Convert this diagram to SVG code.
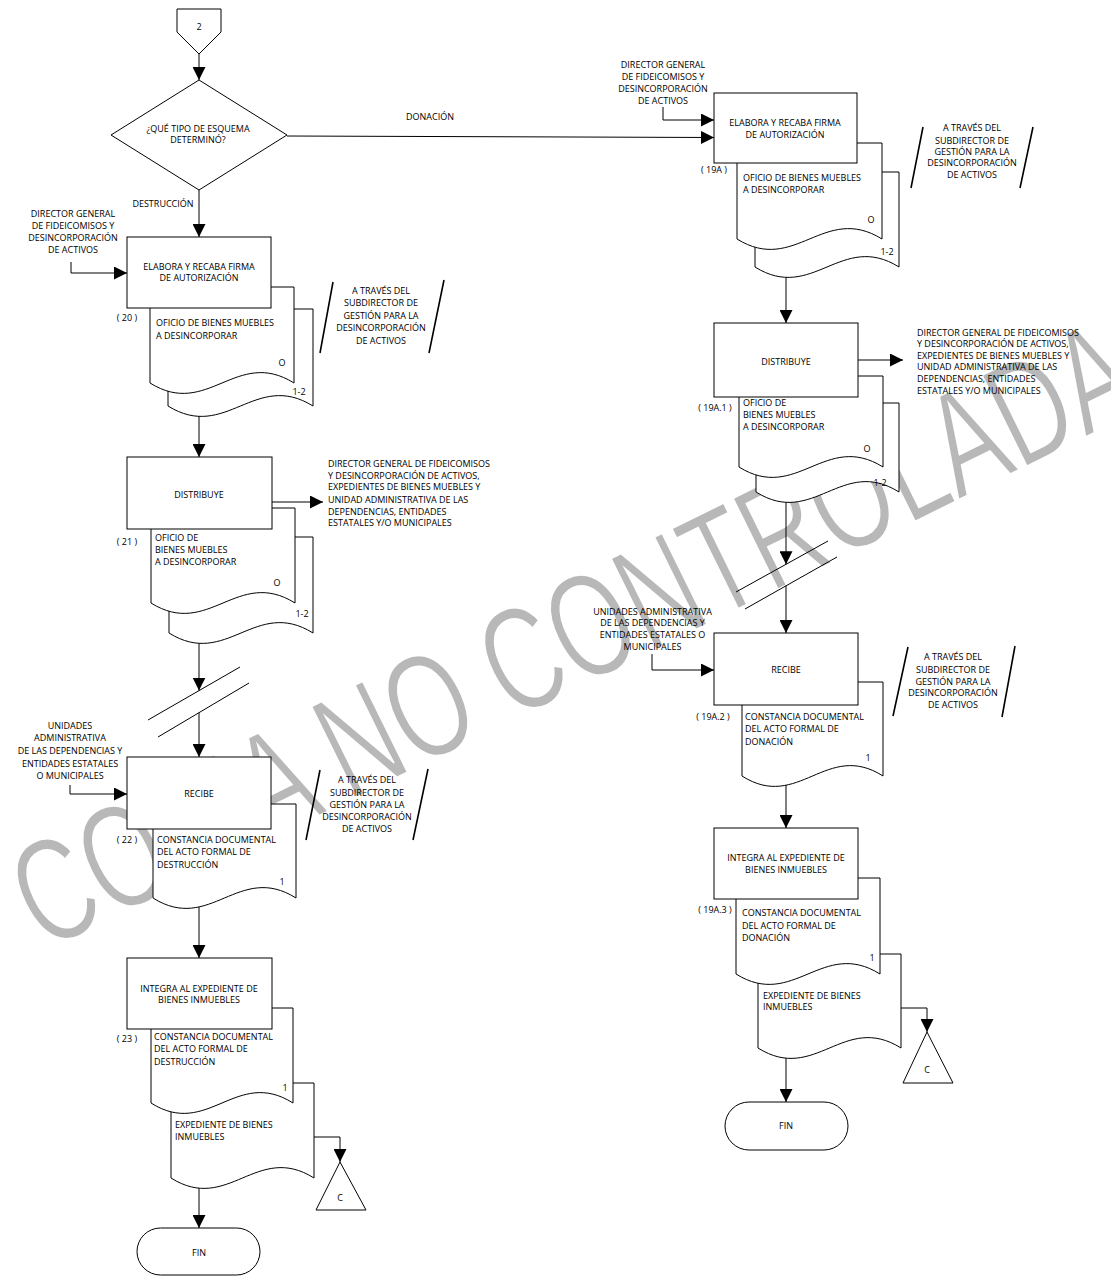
<svg xmlns="http://www.w3.org/2000/svg" width="1111" height="1278" viewBox="0 0 1111 1278">
<style>
.n{fill:#fff;stroke:#000;stroke-width:1}
.c{fill:none;stroke:#000;stroke-width:1}
.s{fill:none;stroke:#000;stroke-width:1.6}
.t{font-family:"Open Sans","Liberation Sans",sans-serif;font-size:9px;fill:#000}
.m{text-anchor:middle}
.wm{font-family:"Liberation Sans",Arial,sans-serif;font-size:102px;fill:#b8b8b8;stroke:#fff;stroke-width:1.4}
</style>
<defs>
<marker id="ah" markerUnits="userSpaceOnUse" markerWidth="13" markerHeight="13" viewBox="0 0 13 13" refX="13" refY="6.5" orient="auto"><path d="M0,0 L13,6.5 L0,13 z" fill="#000"/></marker>
</defs>
<rect width="1111" height="1278" fill="#fff"/>
<text class="wm" transform="translate(44,952) rotate(-26.3) scale(1,1.45)">COPIA NO CONTROLADA</text>

<g id="connectors">
<path class="c" d="M199 54V80" marker-end="url(#ah)"/>
<path class="c" d="M199 190V237" marker-end="url(#ah)"/>
<path class="c" d="M199 416V457" marker-end="url(#ah)"/>
<path class="c" d="M199 643V690.6" marker-end="url(#ah)"/>
<path class="c" d="M199 712.7V757" marker-end="url(#ah)"/>
<path class="c" d="M199 907V958" marker-end="url(#ah)"/>
<path class="c" d="M199 1188V1228" marker-end="url(#ah)"/>
<path class="c" d="M314 1137H340V1162" marker-end="url(#ah)"/>
<path class="c" d="M71 262V273H127" marker-end="url(#ah)"/>
<path class="c" d="M272 502H323" marker-end="url(#ah)"/>
<path class="c" d="M70 785V794H127" marker-end="url(#ah)"/>
<path class="c" d="M148 720L240 667M158 737L249 683"/>
<path class="c" d="M287 136L714 137.5" marker-end="url(#ah)"/>
<path class="c" d="M663 107V120H714" marker-end="url(#ah)"/>
<path class="c" d="M786 277V323" marker-end="url(#ah)"/>
<path class="c" d="M858 360H903" marker-end="url(#ah)"/>
<path class="c" d="M786 502V564.3" marker-end="url(#ah)"/>
<path class="c" d="M736 592L828 541M745 609L837 557"/>
<path class="c" d="M786 585.8V633" marker-end="url(#ah)"/>
<path class="c" d="M652 654V670H714" marker-end="url(#ah)"/>
<path class="c" d="M786 785V828" marker-end="url(#ah)"/>
<path class="c" d="M786 1058V1102" marker-end="url(#ah)"/>
<path class="c" d="M901 1008H927V1032" marker-end="url(#ah)"/>
</g>

<g id="start-2">
<path class="n" d="M177 9H221V32L199 54L177 32Z"/>
<text class="t m" x="199" y="30">2</text>
</g>

<g id="decision">
<path class="n" d="M199 80L287 135L199 190L111 135Z"/>
<text class="t m" x="198" y="131.5">¿QUÉ TIPO DE ESQUEMA</text>
<text class="t m" x="198" y="143">DETERMINÓ?</text>
<text class="t m" x="430" y="120">DONACIÓN</text>
<text class="t m" x="163" y="207">DESTRUCCIÓN</text>
</g>

<g id="actor-20">
<text class="t m" x="73" y="217">DIRECTOR GENERAL</text>
<text class="t m" x="73" y="229">DE FIDEICOMISOS Y</text>
<text class="t m" x="73" y="241">DESINCORPORACIÓN</text>
<text class="t m" x="73" y="253">DE ACTIVOS</text>
</g>

<g id="step-20">
<path class="n" d="M168 309H313V406C255 370 226 442 168 406Z"/>
<path class="n" d="M150 287H294V383C236.4 347 207.6 419 150 383Z"/>
<rect class="n" x="127" y="237" width="144" height="71"/>
<text class="t m" x="199" y="270">ELABORA Y RECABA FIRMA</text>
<text class="t m" x="199" y="281">DE AUTORIZACIÓN</text>
<text class="t m" x="127" y="321">( 20 )</text>
<text class="t" x="156" y="326">OFICIO DE BIENES MUEBLES</text>
<text class="t" x="156" y="339">A DESINCORPORAR</text>
<text class="t m" x="282" y="366">O</text>
<text class="t m" x="299" y="395">1-2</text>
</g>

<g id="note-20">
<path class="s" d="M333 282L320 353M444 280L429 353"/>
<text class="t m" x="381" y="294">A TRAVÉS DEL</text>
<text class="t m" x="381" y="306">SUBDIRECTOR DE</text>
<text class="t m" x="381" y="319">GESTIÓN PARA LA</text>
<text class="t m" x="381" y="331">DESINCORPORACIÓN</text>
<text class="t m" x="381" y="344">DE ACTIVOS</text>
</g>

<g id="step-21">
<path class="n" d="M169 537H313V633C255.4 597 226.6 669 169 633Z"/>
<path class="n" d="M151 508H295V603C237.4 567 208.6 639 151 603Z"/>
<rect class="n" x="127" y="457" width="145" height="72"/>
<text class="t m" x="199" y="498">DISTRIBUYE</text>
<text class="t m" x="127" y="545">( 21 )</text>
<text class="t" x="155" y="541">OFICIO DE</text>
<text class="t" x="155" y="553">BIENES MUEBLES</text>
<text class="t" x="155" y="565">A DESINCORPORAR</text>
<text class="t m" x="277" y="586">O</text>
<text class="t m" x="302" y="617">1-2</text>
</g>

<g id="recipients-21">
<text class="t" x="328" y="467">DIRECTOR GENERAL DE FIDEICOMISOS</text>
<text class="t" x="328" y="479">Y DESINCORPORACIÓN DE ACTIVOS,</text>
<text class="t" x="328" y="490">EXPEDIENTES DE BIENES MUEBLES Y</text>
<text class="t" x="328" y="503">UNIDAD ADMINISTRATIVA DE LAS</text>
<text class="t" x="328" y="515">DEPENDENCIAS, ENTIDADES</text>
<text class="t" x="328" y="526">ESTATALES Y/O MUNICIPALES</text>
</g>

<g id="actor-22">
<text class="t m" x="70" y="729">UNIDADES</text>
<text class="t m" x="70" y="741">ADMINISTRATIVA</text>
<text class="t m" x="70" y="754">DE LAS DEPENDENCIAS Y</text>
<text class="t m" x="70" y="767">ENTIDADES ESTATALES</text>
<text class="t m" x="70" y="779">O MUNICIPALES</text>
</g>

<g id="step-22">
<path class="n" d="M153 804H296V898C238.8 862 210.2 934 153 898Z"/>
<rect class="n" x="127" y="757" width="144" height="72"/>
<text class="t m" x="199" y="797">RECIBE</text>
<text class="t m" x="127" y="843">( 22 )</text>
<text class="t" x="157" y="843">CONSTANCIA DOCUMENTAL</text>
<text class="t" x="157" y="855">DEL ACTO FORMAL DE</text>
<text class="t" x="157" y="868">DESTRUCCIÓN</text>
<text class="t m" x="282" y="885">1</text>
</g>

<g id="note-22">
<path class="s" d="M320 770L306 840M428 769L413 840"/>
<text class="t m" x="367" y="783">A TRAVÉS DEL</text>
<text class="t m" x="367" y="796">SUBDIRECTOR DE</text>
<text class="t m" x="367" y="808">GESTIÓN PARA LA</text>
<text class="t m" x="367" y="820">DESINCORPORACIÓN</text>
<text class="t m" x="367" y="832">DE ACTIVOS</text>
</g>

<g id="step-23">
<path class="n" d="M171 1083H314V1178C256.8 1142 228.2 1214 171 1178Z"/>
<path class="n" d="M151 1008H293V1103C236.2 1067 207.8 1139 151 1103Z"/>
<rect class="n" x="127" y="958" width="145" height="71"/>
<text class="t m" x="199" y="992">INTEGRA AL EXPEDIENTE DE</text>
<text class="t m" x="199" y="1003">BIENES INMUEBLES</text>
<text class="t m" x="127" y="1042">( 23 )</text>
<text class="t" x="154" y="1040">CONSTANCIA DOCUMENTAL</text>
<text class="t" x="154" y="1052">DEL ACTO FORMAL DE</text>
<text class="t" x="154" y="1065">DESTRUCCIÓN</text>
<text class="t m" x="285" y="1091">1</text>
<text class="t" x="175" y="1128">EXPEDIENTE DE BIENES</text>
<text class="t" x="175" y="1140">INMUEBLES</text>
</g>

<g id="connector-c-left">
<path class="n" d="M340 1162L366 1210H316Z"/>
<text class="t m" x="340" y="1201">C</text>
</g>

<g id="end-left">
<rect class="n" x="137" y="1228" width="123" height="47" rx="23.5"/>
<text class="t m" x="199" y="1256">FIN</text>
</g>

<g id="actor-19A">
<text class="t m" x="663" y="67.5">DIRECTOR GENERAL</text>
<text class="t m" x="663" y="79.5">DE FIDEICOMISOS Y</text>
<text class="t m" x="663" y="92">DESINCORPORACIÓN</text>
<text class="t m" x="663" y="103.5">DE ACTIVOS</text>
</g>

<g id="step-19A">
<path class="n" d="M755 172H899V267C841.4 231 812.6 303 755 267Z"/>
<path class="n" d="M737 143H882V239C824 203 795 275 737 239Z"/>
<rect class="n" x="714" y="93" width="143" height="70"/>
<text class="t m" x="785" y="126">ELABORA Y RECABA FIRMA</text>
<text class="t m" x="785" y="138">DE AUTORIZACIÓN</text>
<text class="t m" x="714" y="173">( 19A )</text>
<text class="t" x="743" y="181">OFICIO DE BIENES MUEBLES</text>
<text class="t" x="743" y="193">A DESINCORPORAR</text>
<text class="t m" x="871" y="223">O</text>
<text class="t m" x="887" y="255">1-2</text>
</g>

<g id="note-19A">
<path class="s" d="M923 127L911 188M1033 127L1020 188"/>
<text class="t m" x="972" y="131">A TRAVÉS DEL</text>
<text class="t m" x="972" y="143.5">SUBDIRECTOR DE</text>
<text class="t m" x="972" y="154.5">GESTIÓN PARA LA</text>
<text class="t m" x="972" y="165.5">DESINCORPORACIÓN</text>
<text class="t m" x="972" y="178">DE ACTIVOS</text>
</g>

<g id="step-19A1">
<path class="n" d="M756 403H899V492C841.8 456 813.2 528 756 492Z"/>
<path class="n" d="M739 376H883V467C825.4 431 796.6 503 739 467Z"/>
<rect class="n" x="714" y="323" width="144" height="74"/>
<text class="t m" x="786" y="365">DISTRIBUYE</text>
<text class="t m" x="715" y="411">( 19A.1 )</text>
<text class="t" x="743" y="406">OFICIO DE</text>
<text class="t" x="743" y="418">BIENES MUEBLES</text>
<text class="t" x="743" y="430">A DESINCORPORAR</text>
<text class="t m" x="867" y="452">O</text>
<text class="t m" x="880" y="486">1-2</text>
</g>

<g id="recipients-19A1">
<text class="t" x="917" y="335.5">DIRECTOR GENERAL DE FIDEICOMISOS</text>
<text class="t" x="917" y="347">Y DESINCORPORACIÓN DE ACTIVOS,</text>
<text class="t" x="917" y="358.5">EXPEDIENTES DE BIENES MUEBLES Y</text>
<text class="t" x="917" y="370">UNIDAD ADMINISTRATIVA DE LAS</text>
<text class="t" x="917" y="382">DEPENDENCIAS, ENTIDADES</text>
<text class="t" x="917" y="394">ESTATALES Y/O MUNICIPALES</text>
</g>

<g id="actor-19A2">
<text class="t m" x="652.5" y="614.5">UNIDADES ADMINISTRATIVA</text>
<text class="t m" x="652.5" y="626">DE LAS DEPENDENCIAS Y</text>
<text class="t m" x="652.5" y="637.5">ENTIDADES ESTATALES O</text>
<text class="t m" x="652.5" y="649.5">MUNICIPALES</text>
</g>

<g id="step-19A2">
<path class="n" d="M742 682H883V776C826.6 740 798.4 812 742 776Z"/>
<rect class="n" x="714" y="633" width="144" height="72"/>
<text class="t m" x="786" y="673">RECIBE</text>
<text class="t m" x="713" y="720">( 19A.2 )</text>
<text class="t" x="745" y="720">CONSTANCIA DOCUMENTAL</text>
<text class="t" x="745" y="732">DEL ACTO FORMAL DE</text>
<text class="t" x="745" y="745">DONACIÓN</text>
<text class="t m" x="868" y="761">1</text>
</g>

<g id="note-19A2">
<path class="s" d="M908 647L893 716M1015 646L1002 717"/>
<text class="t m" x="953" y="660">A TRAVÉS DEL</text>
<text class="t m" x="953" y="673">SUBDIRECTOR DE</text>
<text class="t m" x="953" y="685">GESTIÓN PARA LA</text>
<text class="t m" x="953" y="696">DESINCORPORACIÓN</text>
<text class="t m" x="953" y="708">DE ACTIVOS</text>
</g>

<g id="step-19A3">
<path class="n" d="M758 954H901V1048C843.8 1012 815.2 1084 758 1048Z"/>
<path class="n" d="M736 878H880V974C822.4 938 793.6 1010 736 974Z"/>
<rect class="n" x="714" y="828" width="144" height="71"/>
<text class="t m" x="786" y="861">INTEGRA AL EXPEDIENTE DE</text>
<text class="t m" x="786" y="873">BIENES INMUEBLES</text>
<text class="t m" x="715" y="913">( 19A.3 )</text>
<text class="t" x="742" y="916">CONSTANCIA DOCUMENTAL</text>
<text class="t" x="742" y="929">DEL ACTO FORMAL DE</text>
<text class="t" x="742" y="941">DONACIÓN</text>
<text class="t m" x="872" y="961">1</text>
<text class="t" x="763" y="999">EXPEDIENTE DE BIENES</text>
<text class="t" x="763" y="1010">INMUEBLES</text>
</g>

<g id="connector-c-right">
<path class="n" d="M927 1032L953 1083H903Z"/>
<text class="t m" x="927" y="1073">C</text>
</g>

<g id="end-right">
<rect class="n" x="725" y="1102" width="123" height="48" rx="24"/>
<text class="t m" x="786" y="1129">FIN</text>
</g>
</svg>
